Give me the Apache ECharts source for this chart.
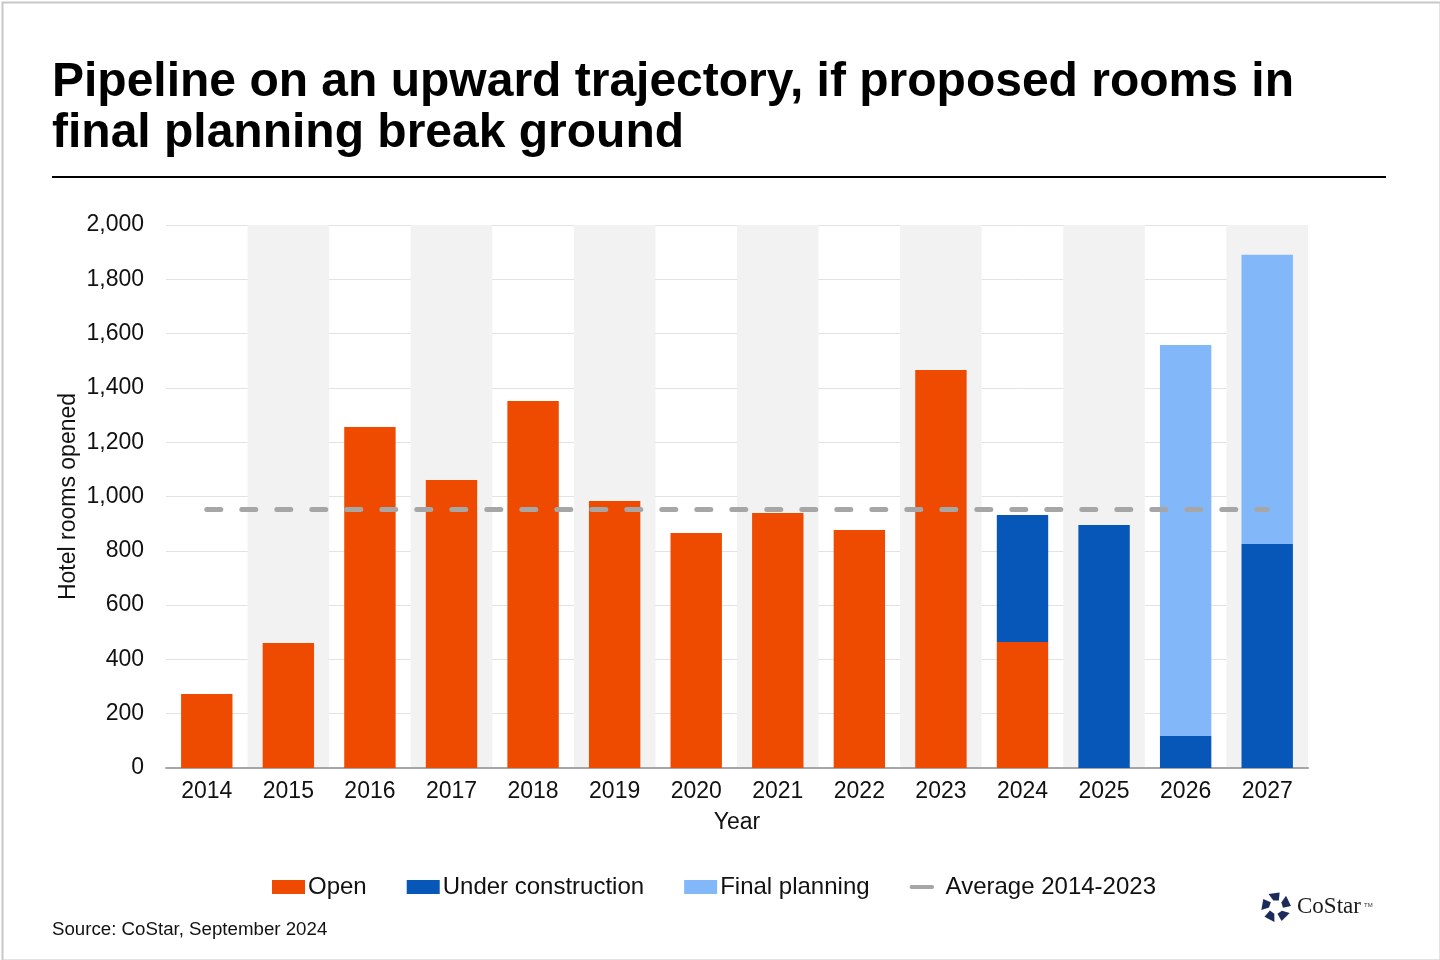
<!DOCTYPE html>
<html>
<head>
<meta charset="utf-8">
<script src="https://cdn.jsdelivr.net/npm/echarts@6/dist/echarts.min.js"></script>
<style>
html,body{margin:0;padding:0;background:#fff;}
#chart{width:1440px;height:960px;}
</style>
</head>
<body>
<div id="chart"></div>
<script>
const years = ['2014','2015','2016','2017','2018','2019','2020','2021','2022','2023','2024','2025','2026','2027'];
const openRooms = [273, 460, 1256, 1061, 1352, 983, 866, 939, 877, 1466, 464, null, null, null];
const underConstruction = [null, null, null, null, null, null, null, null, null, null, 468, 895, 118, 825];
const finalPlanning = [null, null, null, null, null, null, null, null, null, null, null, null, 1440, 1065];
const average2014to2023 = 954;
const yTicks = [0, 200, 400, 600, 800, 1000, 1200, 1400, 1600, 1800, 2000];

const FONT = '"Liberation Sans", Arial, sans-serif';
const chart = echarts.init(document.getElementById('chart'), null, {renderer: 'canvas'});

// CoStar logo pinwheel pieces (decoration)
const logoPieces = [];
const cx = 1276, cy = 907;
for (let k = 0; k < 5; k++) {
  const a = (-90 + 72 * k) * Math.PI / 180;
  const d = Math.PI / 180;
  const p = (r, off) => [cx + r * Math.cos(a + off * d), cy + r * Math.sin(a + off * d)];
  logoPieces.push({
    type: 'polygon',
    shape: {points: [p(7, -22), p(15, -30), p(15, 14), p(7, 24)]},
    style: {fill: '#1c2b5a'}
  });
}

const option = {
  backgroundColor: '#ffffff',
  animation: false,
  textStyle: {fontFamily: FONT},
  title: {
    text: 'Pipeline on an upward trajectory, if proposed rooms in\nfinal planning break ground',
    left: 47, top: 52,
    textStyle: {fontFamily: FONT, fontSize: 48, fontWeight: 'bold', color: '#000', lineHeight: 51}
  },
  legend: {
    left: 267, top: 870,
    itemWidth: 33, itemHeight: 14, itemGap: 40,
    textStyle: {fontFamily: FONT, fontSize: 24, color: '#111', padding: [0,0,0,-2]},
    data: [
      {name: 'Open', icon: 'rect'},
      {name: 'Under construction', icon: 'rect'},
      {name: 'Final planning', icon: 'rect'},
      {name: 'Average 2014-2023', icon: 'path://M0,0 L0.01,0 Z M33,14 L33.01,14 Z M0,5 L22,5 A2,2 0 0 1 22,9 L0,9 A2,2 0 0 1 0,5 Z', itemStyle: {color: '#a6a6a6'}}
    ]
  },
  grid: {left: 166, right: 132, top: 225, bottom: 192, containLabel: false},
  xAxis: {
    type: 'category',
    data: years,
    name: 'Year',
    nameLocation: 'middle',
    nameGap: 43,
    nameMoveOverlap: false,
    nameTextStyle: {fontFamily: FONT, fontSize: 23, color: '#111'},
    axisLine: {show: true, lineStyle: {color: '#a6a6a6', width: 2}},
    axisTick: {show: false},
    axisLabel: {fontFamily: FONT, fontSize: 23, color: '#111', margin: 12},
    splitArea: {show: true, areaStyle: {color: ['rgba(255,255,255,0)', '#f2f2f2']}}
  },
  yAxis: {
    type: 'value',
    min: yTicks[0], max: yTicks[yTicks.length - 1], interval: 200,
    name: 'Hotel rooms opened',
    nameLocation: 'middle',
    nameGap: 86,
    nameMoveOverlap: false,
    nameRotate: 90,
    nameTextStyle: {fontFamily: FONT, fontSize: 23, color: '#111'},
    axisLine: {show: false},
    axisTick: {show: false},
    axisLabel: {fontFamily: FONT, fontSize: 23, color: '#111', margin: 22,
      formatter: v => v.toLocaleString('en-US')},
    splitLine: {lineStyle: {color: '#e2e2e2', width: 1}}
  },
  series: [
    {name: 'Open', type: 'bar', stack: 'total', data: openRooms, barWidth: '63%',
      itemStyle: {color: '#ee4a00'}},
    {name: 'Under construction', type: 'bar', stack: 'total', data: underConstruction,
      itemStyle: {color: '#0757b8'}},
    {name: 'Final planning', type: 'bar', stack: 'total', data: finalPlanning,
      itemStyle: {color: '#82b8f9'}},
    {name: 'Average 2014-2023', type: 'line', data: [], symbol: 'none',
      lineStyle: {color: '#a6a6a6', width: 5},
      itemStyle: {color: '#a6a6a6'},
      markLine: {
        silent: true, symbol: 'none', label: {show: false},
        lineStyle: {color: '#a6a6a6', width: 5, type: [14, 21], cap: 'round'},
        data: [[{xAxis: years[0], yAxis: average2014to2023}, {xAxis: years[years.length - 1], yAxis: average2014to2023}]]
      }}
  ],
  graphic: [
    {type: 'rect', left: 0, top: 0, shape: {width: 1438, height: 958},
      style: {fill: 'none', stroke: '#c8c8c8', lineWidth: 2}, silent: true, z: 100},
    {type: 'line', shape: {x1: 52, y1: 177, x2: 1386, y2: 177},
      style: {stroke: '#000', lineWidth: 2}},
    {type: 'text', left: 52, top: 920,
      style: {text: 'Source: CoStar, September 2024', font: '18.7px ' + FONT, fill: '#111'}},
    {type: 'text', left: 1297, top: 895,
      style: {text: 'CoStar', font: '23px "Liberation Serif", "DejaVu Serif", serif', fill: '#1a1a1a'}},
    {type: 'text', left: 1364, top: 902,
      style: {text: 'TM', font: '6px ' + FONT, fill: '#333'}},
    ...logoPieces
  ]
};
chart.setOption(option);
</script>
</body>
</html>
